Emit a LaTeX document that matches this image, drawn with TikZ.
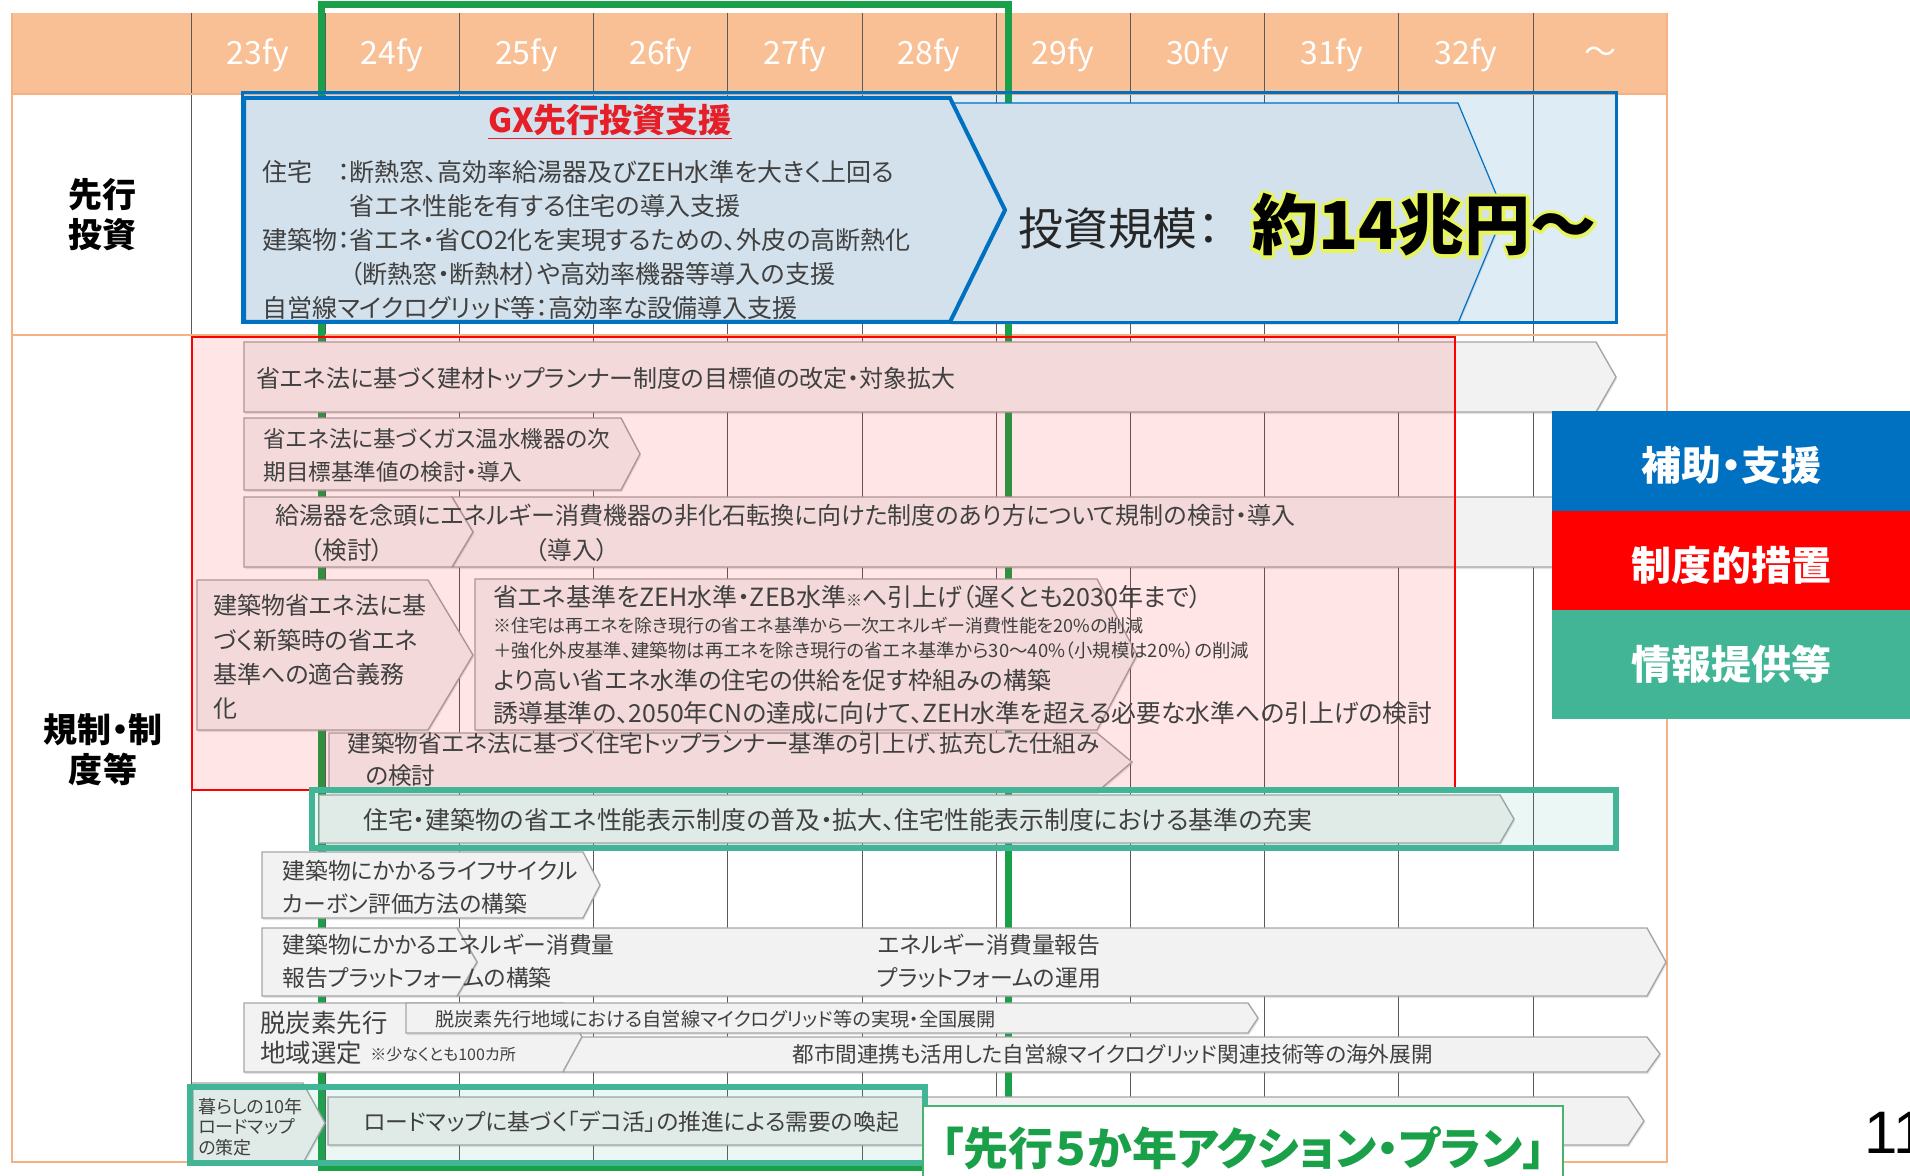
\documentclass[tikz,border=0pt]{standalone}
\usepackage{fontspec}
\setmainfont{Noto Sans CJK JP}[RawFeature=+palt]
\newfontfamily\pagefont{Liberation Sans}
\usetikzlibrary{shadows}

\definecolor{hdrorange}{RGB}{248,192,148}
\definecolor{frameorange}{RGB}{244,177,131}
\definecolor{gridgray}{RGB}{89,89,89}
\definecolor{gxgreen}{RGB}{26,160,72}
\definecolor{gxblue}{RGB}{0,112,192}
\definecolor{gxred}{RGB}{230,30,40}
\definecolor{infoteal}{RGB}{67,181,151}
\definecolor{chevfill}{RGB}{242,242,242}
\definecolor{chevline}{RGB}{166,166,166}
\definecolor{txtgray}{RGB}{64,64,64}
\definecolor{glowyellow}{RGB}{232,245,90}

\begin{document}
\begin{tikzpicture}[x=0.5pt, y=-0.5pt,
  grid/.style={draw=gridgray, line width=0.5pt},
  frame/.style={draw=frameorange, line width=1pt},
  gx/.style={draw=gxgreen, line width=3.5pt},
  chev/.style={fill=chevfill, draw=chevline, line width=0.7pt, drop shadow={shadow xshift=0.5pt, shadow yshift=-1pt, opacity=0.2}},
  hdr/.style={text=white, font=\fontsize{16}{18}\selectfont, inner sep=0pt},
  lbl/.style={text=black, font=\fontsize{17}{20}\selectfont\bfseries, align=center, inner sep=0pt},
  txt/.style={anchor=west, inner sep=0pt, align=left, text=txtgray, font=\fontsize{12.3}{17}\selectfont},
  sml/.style={txt, font=\fontsize{9}{11}\selectfont},
  legend/.style={text=white, font=\fontsize{20}{24}\selectfont\bfseries, minimum width=179pt, minimum height=54.5pt, inner sep=0pt}]
\fill[white] (0,0) rectangle (1910,1176);
\useasboundingbox (0,0) rectangle (1910,1176);

\fill[hdrorange] (12,13) rectangle (1667,94);
\foreach \i in {0,...,10}
  \draw[grid] ({191+134.2*\i},13) -- ({191+134.2*\i},1162);
\draw[frame] (12,13) -- (12,1162) -- (1667,1162) -- (1667,13) (12,94) -- (1667,94) (12,335) -- (1667,335);
\foreach \yr [count=\i from 0] in {23,...,32}
  \node[hdr] (fy\yr) at ({258+134.2*\i},55) {\yr fy};
\node[hdr] (fyrest) at ({258+134.2*10},55) {～};
\draw[gx] (321,5) rectangle (1008,1167);

\draw[chev, draw=gxblue, line width=0.6pt] (950,103) -- (1458,103) -- (1504,213) -- (1458,323) -- (950,323) -- (1005,213) -- cycle;
\draw[chev, draw=gxblue, line width=2pt] (244,98) -- (950,98) -- (1005,210) -- (950,322) -- (244,322) -- cycle;

\draw[chev] (244,342) -- (1596,342) -- (1616,377) -- (1596,412) -- (244,412) -- cycle;
\draw[chev] (244,418) -- (621,418) -- (640,454) -- (621,490) -- (244,490) -- cycle;
\draw[chev] (452,497) -- (1596,497) -- (1616,532) -- (1596,567) -- (452,567) -- (473,532) -- cycle;
\draw[chev] (244,497) -- (452,497) -- (473,532) -- (452,567) -- (244,567) -- cycle;
\draw[chev] (197,580) -- (428,580) -- (473,655) -- (428,730) -- (197,730) -- cycle;
\draw[chev] (475,579) -- (1097,579) -- (1137,655) -- (1097,730) -- (475,730) -- cycle;
\draw[chev] (329,733) -- (1097,733) -- (1132,762) -- (1097,792) -- (329,792) -- cycle;
\draw[chev] (319,795) -- (1500,795) -- (1514,819) -- (1500,843) -- (319,843) -- cycle;
\draw[chev] (262,852) -- (583,852) -- (600,885) -- (583,918) -- (262,918) -- cycle;
\draw[chev] (457,928) -- (1647,928) -- (1666,962) -- (1647,996) -- (457,996) -- (477,962) -- cycle;
\draw[chev] (262,928) -- (457,928) -- (477,962) -- (457,996) -- (262,996) -- cycle;
\draw[chev] (244,1003) -- (563,1003) -- (582,1037) -- (563,1072) -- (244,1072) -- cycle;
\draw[chev] (582,1037) -- (1647,1037) -- (1660,1054) -- (1647,1072) -- (563,1072) -- cycle;
\draw[chev] (406,1003) -- (1248,1003) -- (1258,1018) -- (1248,1033) -- (406,1033) -- cycle;
\draw[chev] (193,1083) -- (303,1083) -- (325,1123) -- (303,1163) -- (193,1163) -- cycle;
\draw[chev] (328,1097) -- (1628,1097) -- (1644,1121) -- (1628,1145) -- (328,1145) -- cycle;

\draw[draw=gxblue, line width=1.5pt, fill=gxblue, fill opacity=0.13] (242,93) rectangle (1616,323);
\draw[draw=red, line width=1.2pt, fill=red, fill opacity=0.1] (192,337) rectangle (1455,790);
\draw[draw=infoteal, line width=3pt, fill=infoteal, fill opacity=0.1] (312,790) rectangle (1616,848);
\draw[draw=infoteal, line width=3pt, fill=infoteal, fill opacity=0.1] (190,1087) rectangle (925,1163);

\node[lbl] (senko) at (102,215) {先行\\投資};
\node[lbl] (kisei) at (103,750) {規制・制\\度等};

\node[text=gxred, inner sep=0pt, font=\fontsize{16.5}{20}\selectfont\bfseries] (gxtitle) at (610,122) {\underline{GX先行投資支援}};
\node[txt, font=\fontsize{12.5}{16.9}\selectfont] (gxbody) at (262,240) {住宅　：断熱窓、高効率給湯器及びZEH水準を大きく上回る\\
\phantom{建築物：}省エネ性能を有する住宅の導入支援\\
建築物：省エネ・省CO2化を実現するための、外皮の高断熱化\\
\phantom{建築物：}（断熱窓・断熱材）や高効率機器等導入の支援\\
自営線マイクログリッド等：高効率な設備導入支援};
\node[txt, text=black!85, font=\fontsize{22.4}{26}\selectfont] (kibo) at (1018,229) {投資規模：};
\foreach \a in {0,30,...,330}
  \node[txt, text=glowyellow, font=\fontsize{33}{38}\selectfont\bfseries, shift={(\a:1.6pt)}] (glow\a) at (1252,225) {約14兆円～};
\node[txt, text=black, font=\fontsize{33}{38}\selectfont\bfseries] (gaku) at (1252,225) {約14兆円～};

\node[txt, font=\fontsize{12}{17}\selectfont] (kenzai) at (256,378) {省エネ法に基づく建材トップランナー制度の目標値の改定・対象拡大};
\node[txt, font=\fontsize{11.3}{16.5}\selectfont] (gas) at (263,455) {省エネ法に基づくガス温水機器の次\\期目標基準値の検討・導入};
\node[txt, font=\fontsize{12}{17}\selectfont] (hika) at (275,515) {給湯器を念頭にエネルギー消費機器の非化石転換に向けた制度のあり方について規制の検討・導入};
\node[txt, anchor=center] (kento) at (347,550) {（検討）};
\node[txt, anchor=center] (donyu) at (572,550) {（導入）};
\node[txt, font=\fontsize{12}{17.2}\selectfont] (gimu) at (213,657) {建築物省エネ法に基\\づく新築時の省エネ\\基準への適合義務\\化};
\node[txt, font=\fontsize{12.5}{17}\selectfont] (zeh) at (493,597) {省エネ基準をZEH水準・ZEB水準{\fontsize{8}{8}\selectfont ※}へ引上げ（遅くとも2030年まで）};
\node[sml] (note1) at (493,626) {※住宅は再エネを除き現行の省エネ基準から一次エネルギー消費性能を20\%の削減};
\node[sml, font=\fontsize{9.2}{11}\selectfont] (note2) at (493,651) {＋強化外皮基準、建築物は再エネを除き現行の省エネ基準から30～40\%（小規模は20\%）の削減};
\node[txt, font=\fontsize{12}{17}\selectfont] (waku) at (493,680) {より高い省エネ水準の住宅の供給を促す枠組みの構築};
\node[txt, font=\fontsize{12.4}{17}\selectfont] (yudo) at (493,713) {誘導基準の、2050年CNの達成に向けて、ZEH水準を超える必要な水準への引上げの検討};
\node[txt, font=\fontsize{11.8}{16}\selectfont] (toprun) at (347,760) {建築物省エネ法に基づく住宅トップランナー基準の引上げ、拡充した仕組み\\\hspace{9pt}の検討};
\node[txt, font=\fontsize{12.45}{17}\selectfont] (hyoji) at (363,820) {住宅・建築物の省エネ性能表示制度の普及・拡大、住宅性能表示制度における基準の充実};
\node[txt, font=\fontsize{11.4}{16.5}\selectfont] (lca) at (282,887) {建築物にかかるライフサイクル\\カーボン評価方法の構築};
\node[txt, font=\fontsize{11.4}{16.5}\selectfont] (hokoku) at (282,961) {建築物にかかるエネルギー消費量\\報告プラットフォームの構築};
\node[txt, anchor=center, align=center, font=\fontsize{11.4}{16.5}\selectfont] (unyo) at (989,961) {エネルギー消費量報告\\プラットフォームの運用};
\node[txt, font=\fontsize{12.7}{15}\selectfont] (datsu) at (260,1023) {脱炭素先行};
\node[txt, font=\fontsize{12.7}{15}\selectfont] (chiiki) at (260,1053) {地域選定};
\node[sml, font=\fontsize{8}{10}\selectfont] (hyaku) at (370,1054) {※少なくとも100カ所};
\node[sml, font=\fontsize{9.6}{11}\selectfont] (zenkoku) at (435,1019) {脱炭素先行地域における自営線マイクログリッド等の実現・全国展開};
\node[sml, font=\fontsize{10.8}{12}\selectfont] (kaigai) at (792,1054) {都市間連携も活用した自営線マイクログリッド関連技術等の海外展開};
\node[sml, font=\fontsize{9}{10.25}\selectfont] (kurashi) at (198,1127) {暮らしの10年\\ロードマップ\\の策定};
\node[txt, font=\fontsize{11.4}{13}\selectfont] (dekokatsu) at (363,1122) {ロードマップに基づく「デコ活」の推進による需要の喚起};

\node[legend, fill=gxblue] (hojo) at (1731,465.5) {補助・支援};
\node[legend, fill=red] (seido) at (1731,565) {制度的措置};
\node[legend, fill=infoteal] (joho) at (1731,664) {情報提供等};
\node[draw=gxgreen!80, line width=1pt, fill=white, text=gxgreen, font=\fontsize{22.5}{26}\selectfont\bfseries, minimum width=320pt, minimum height=42pt, inner sep=0pt] (plan) at (1243,1148) {「先行５か年アクション・プラン」};
\node[anchor=west, inner sep=0pt, font=\pagefont\fontsize{30}{34}\selectfont] (pgno) at (1864,1133) {11};
\end{tikzpicture}
\end{document}
